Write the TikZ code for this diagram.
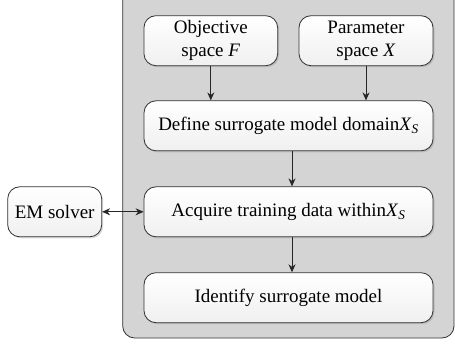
\documentclass[tikz,border=0pt]{standalone}
\usepackage{fontspec}
\setmainfont{Liberation Serif}
\usetikzlibrary{arrows.meta,shadows}
\definecolor{panelgray}{RGB}{212,212,212}
\begin{document}
\begin{tikzpicture}[x=1pt,y=-1pt,line width=0.8pt,
	box/.style={draw=black!80, rounded corners=12pt, top color=white, bottom color=black!6,
		drop shadow={opacity=0.3, shadow xshift=1.5pt, shadow yshift=-1.5pt},
		minimum height=50pt, inner sep=2pt, align=center,
		font=\fontsize{19}{23}\selectfont},
	flow/.style={-{Stealth[length=8pt,width=7pt]}, black!85},
	]
\useasboundingbox (0,0) rectangle (455,345);

% panel
\draw[draw=black!80, fill=panelgray, rounded corners=12pt] (122.7,-14) rectangle (454,338);

\node[box, minimum width=133.7pt] (obj) at (210.8,40.7) {Objective\\space \textit{F}};
\node[box, minimum width=134pt] (par) at (366,40.7) {Parameter\\space \textit{X}};
\node[box, minimum width=289pt] (dom) at (288.5,125.8) {Define surrogate model domain\textit{X}\textsubscript{\textit{S}}};
\node[box, minimum width=289pt] (acq) at (288.5,211.8) {Acquire training data within\textit{X}\textsubscript{\textit{S}}};
\node[box, minimum width=289pt] (ident) at (288.5,297.7) {Identify surrogate model};
\node[box, minimum width=94pt] (em) at (54.7,211.8) {EM solver};

\draw[flow] (obj.south) -- (obj.south |- dom.north);
\draw[flow] (par.south) -- (par.south |- dom.north);
\draw[flow] ([xshift=3.5pt]dom.south) -- ([xshift=3.5pt]acq.north);
\draw[flow] ([xshift=3.5pt]acq.south) -- ([xshift=3.5pt]ident.north);
\draw[flow, {Stealth[length=8pt,width=7pt]}-{Stealth[length=8pt,width=7pt]}] (em.east) -- (acq.west);
\end{tikzpicture}
\end{document}
